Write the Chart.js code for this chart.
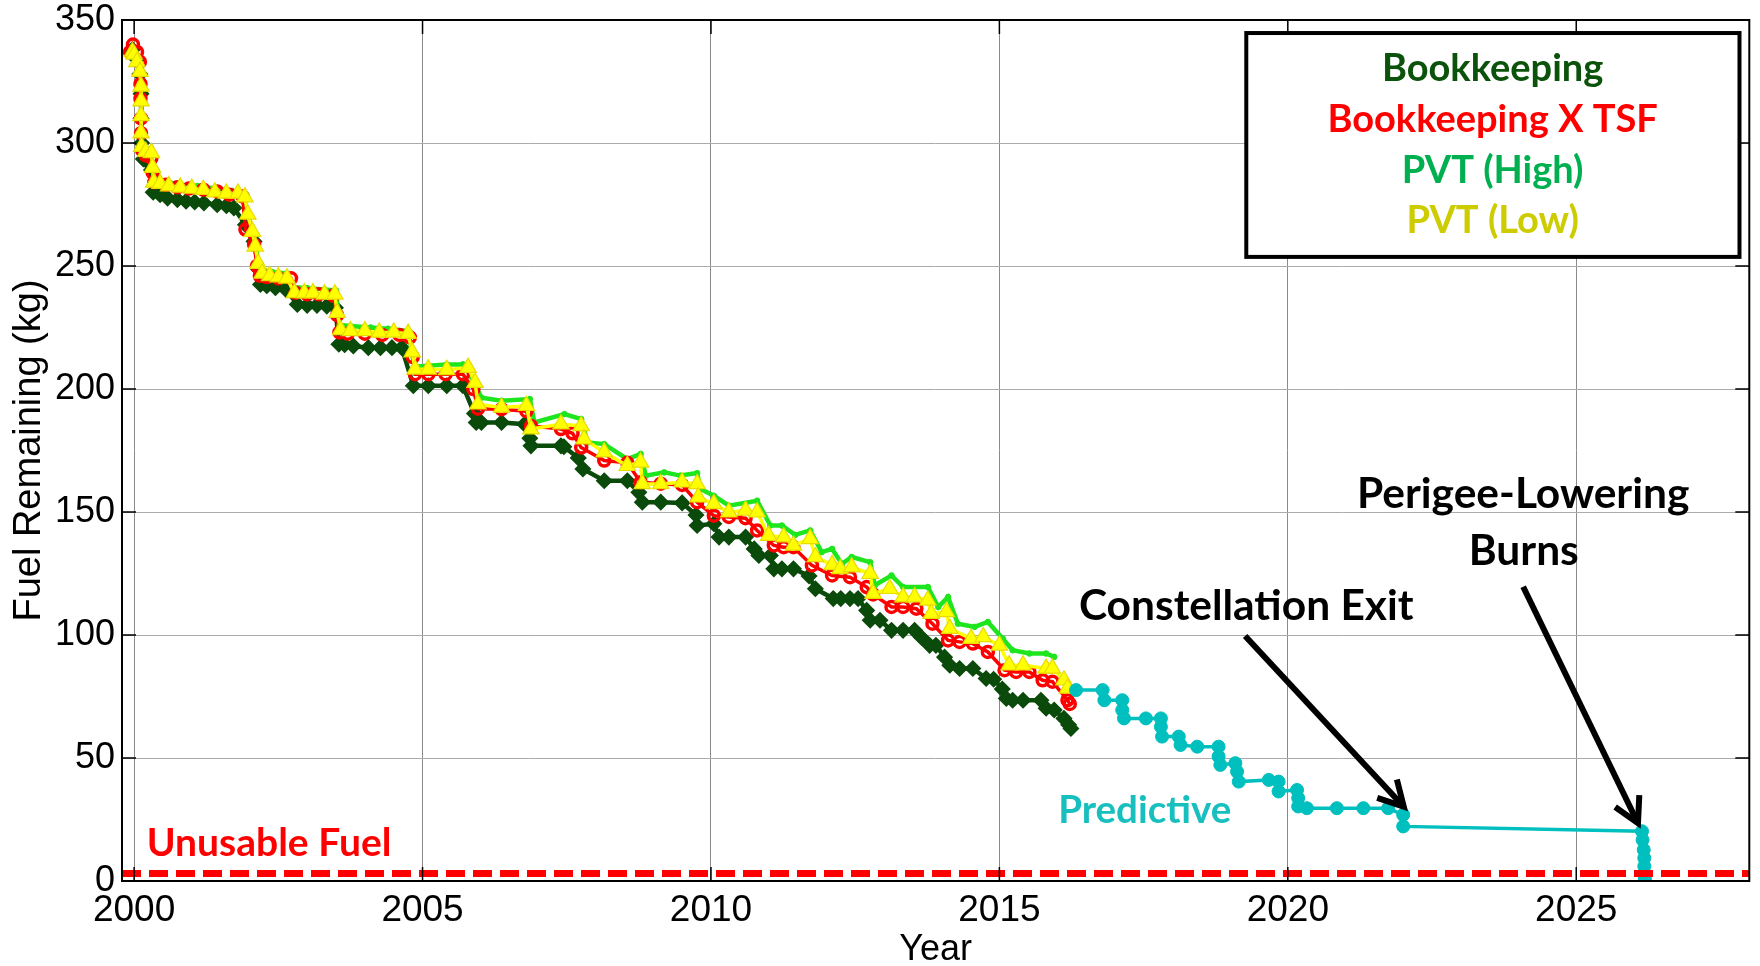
<!DOCTYPE html>
<html>
<head>
<meta charset="utf-8">
<script src="https://cdn.jsdelivr.net/npm/chart.js@4.4.1/dist/chart.umd.min.js"></script>
<style>
html,body{margin:0;padding:0;background:#fff;}
#wrap{width:1760px;height:966px;}
</style>
</head>
<body>
<div id="wrap"><canvas id="c" width="1760" height="966"></canvas></div>
<script>
// ---------- data ----------
const xMin = 1999.79, xMax = 2028;
const yMin = 0, yMax = 350;
const xTicks = [2000, 2005, 2010, 2015, 2020, 2025];
const yTicks = [0, 50, 100, 150, 200, 250, 300, 350];
const seriesNames = ['Bookkeeping', 'Bookkeeping X TSF', 'PVT (High)', 'PVT (Low)'];
const predictiveName = 'Predictive';
const unusableName = 'Unusable Fuel';

const bookkeeping = [
 [1999.97,338],[2000.05,334],[2000.1,328],[2000.12,320],[2000.12,310],[2000.13,300],[2000.16,293.5],[2000.25,292],[2000.3,289],[2000.33,280],
 [2000.45,279],[2000.58,277.6],[2000.75,277],[2000.9,276.3],[2001.05,276],[2001.21,275.6],[2001.44,274.9],[2001.6,274.5],[2001.73,273.6],
 [2001.93,266.8],[2002.08,260],[2002.16,248.6],[2002.19,242.5],[2002.3,242],[2002.45,241.2],[2002.63,240.5],
 [2002.83,234.4],[2003.0,234],[2003.17,234],[2003.34,233.7],[2003.49,233],
 [2003.55,218.2],[2003.65,218],[2003.8,217.5],[2004.06,216.8],[2004.27,216.8],[2004.47,216.8],[2004.64,216.8],
 [2004.84,201.3],[2005.1,201.3],[2005.42,201.3],[2005.7,201.3],
 [2005.9,190],[2005.93,186.4],[2006.02,186.4],[2006.37,186.4],[2006.77,185.7],
 [2006.86,180],[2006.88,176.9],[2007.4,176.9],[2007.45,176.5],
 [2007.7,172],[2007.78,167.5],[2008.15,162.7],[2008.55,162.7],
 [2008.75,158],[2008.81,154],[2009.13,154],[2009.5,153.7],
 [2009.74,148.8],[2009.76,144.5],[2010.05,145.2],[2010.14,139.8],[2010.31,139.8],[2010.6,139.8],
 [2010.75,135],[2010.83,132.3],[2011.03,132.3],[2011.09,126.9],[2011.23,126.9],[2011.43,126.9],
 [2011.7,124],[2011.81,118.8],[2012.12,114.8],[2012.25,114.8],[2012.41,114.8],[2012.55,114.8],
 [2012.7,110],[2012.76,106],[2012.93,106],[2013.13,101.9],[2013.33,101.9],[2013.53,101.9],
 [2013.65,99],[2013.79,95.8],[2013.9,95.8],[2014.05,91],[2014.14,87.7],[2014.31,86.4],[2014.54,86.4],
 [2014.77,82.3],[2014.9,82],[2015.05,78],[2015.12,74.2],[2015.23,73.5],[2015.41,73.5],[2015.72,73.5],
 [2015.81,70.2],[2015.95,69.5],[2016.12,66.1],[2016.2,63.5],[2016.24,62]
];

const bookkeepingTsf = [
 [1999.93,337],[1999.98,340],[2000.05,337],[2000.1,333],[2000.11,324],[2000.11,318],[2000.12,310],[2000.12,304],[2000.14,297],[2000.2,295],[2000.3,294],[2000.32,288],[2000.35,284],
 [2000.55,283],[2000.75,282],[2000.95,281.5],[2001.2,281],[2001.44,280.3],[2001.65,279],[2001.88,278.3],
 [2001.93,264.8],[2002.08,258.7],[2002.13,250],[2002.18,246],[2002.3,245.5],[2002.5,245],[2002.72,245],
 [2002.8,239.1],[2003.0,238.5],[2003.2,238.5],[2003.45,238],[2003.52,230],[2003.56,223],
 [2003.7,222.5],[2004.0,222.5],[2004.3,222],[2004.6,222],[2004.78,221],[2004.83,213],[2004.87,206],
 [2005.1,206],[2005.4,206],[2005.7,206],[2005.88,200],[2005.96,192],[2006.37,191.8],[2006.8,191],
 [2006.88,185],[2007.4,183.7],[2007.6,182],[2007.75,176.2],[2008.15,170.9],[2008.55,170],
 [2008.78,162.1],[2009.13,161.5],[2009.5,161],[2009.76,154],[2010.05,148.5],[2010.31,148],[2010.6,147.5],
 [2010.8,142.5],[2011.09,136.4],[2011.26,135.7],[2011.43,135.7],[2011.75,128.3],[2012.1,124.2],[2012.41,123.5],
 [2012.7,119.5],[2012.81,116.5],[2013.13,111.4],[2013.33,111.4],[2013.56,110.7],[2013.84,104.6],
 [2014.11,97.8],[2014.31,97.2],[2014.54,96.5],[2014.8,93.1],[2015.09,85.7],[2015.29,85],[2015.52,85],
 [2015.75,81.6],[2015.92,81],[2016.18,73.5],[2016.22,72]
];

const pvtHigh = [
 [1999.97,338],[2000.05,334],[2000.1,329],[2000.12,318],[2000.13,305],[2000.14,298],[2000.25,297],[2000.32,291],[2000.35,285],
 [2000.5,284.5],[2000.8,283],[2001.1,282.5],[2001.4,281.5],[2001.7,280.5],[2001.9,279.5],
 [2001.97,271],[2002.08,262],[2002.15,252],[2002.2,248.5],[2002.4,247.5],[2002.65,247],
 [2002.75,241.5],[2003.0,241],[2003.3,240.5],[2003.5,240],
 [2003.56,226],[2003.75,225.6],[2004.1,225],[2004.4,224.5],[2004.75,223.6],
 [2004.86,209],[2005.1,209.5],[2005.42,210],[2005.7,210],[2005.85,205],
 [2006.02,196.5],[2006.37,195.2],[2006.86,195.9],[2006.94,186.4],[2007.46,189.8],[2007.75,187.8],
 [2007.86,178.3],[2008.15,177.6],[2008.55,171.5],[2008.78,173.6],[2008.87,164.8],[2009.19,166.1],
 [2009.47,164.8],[2009.76,165.8],[2009.82,159.4],[2010.05,156.6],[2010.31,152.6],[2010.8,154.6],
 [2011.03,144.5],[2011.23,144.5],[2011.46,140.7],[2011.72,142.5],[2011.92,133.7],[2012.1,135],
 [2012.27,128.9],[2012.44,131.7],[2012.76,129.6],[2012.84,120.2],[2013.13,124.2],[2013.33,119.5],
 [2013.76,119.5],[2013.94,111.4],[2014.11,115.4],[2014.28,104.6],[2014.57,103.3],[2014.8,105.3],
 [2015.06,98.5],[2015.23,93.8],[2015.52,92.5],[2015.81,92.5],[2015.95,91.1]
];

const pvtLow = [
 [1999.97,337],[2000.0,336],[2000.05,333],[2000.1,329],[2000.12,323],[2000.12,317],[2000.12,311],[2000.12,304],[2000.13,298.5],[2000.2,296.5],[2000.3,296],[2000.32,290],[2000.34,284],
 [2000.45,283.5],[2000.6,282.5],[2000.8,282],[2001.0,281.5],[2001.2,281],[2001.4,280],[2001.6,279.5],[2001.8,279.5],[2001.92,278],
 [2001.97,271],[2002.05,264],[2002.1,258],[2002.15,251],[2002.22,247],[2002.35,246],[2002.5,245.5],[2002.65,245],
 [2002.78,239.1],[2002.95,239],[2003.1,239],[2003.3,238.5],[2003.48,238.5],
 [2003.52,231],[2003.58,224],[2003.75,223.6],[2004.0,223.6],[2004.25,223],[2004.5,223],[2004.75,222.5],
 [2004.82,215],[2004.87,208],[2005.1,208],[2005.42,207.8],[2005.79,208.7],[2005.91,202.6],[2005.96,193.8],
 [2006.37,192.5],[2006.8,193.2],[2006.88,183.7],[2007.4,185.7],[2007.75,185],[2007.8,179.6],
 [2008.15,174.3],[2008.55,168.8],[2008.78,170.2],[2008.81,161.4],[2009.13,161.4],[2009.5,162.1],[2009.76,161.4],
 [2009.78,156],[2010.05,153.3],[2010.31,149.9],[2010.6,150.6],[2010.8,149.9],[2011.0,140.4],[2011.26,139.8],
 [2011.43,136.4],[2011.72,139.1],[2011.81,131.7],[2012.1,128.5],[2012.24,126.9],[2012.44,127.6],[2012.76,124.9],
 [2012.81,116.8],[2013.1,118.8],[2013.33,115.4],[2013.53,115.4],[2013.76,114.1],[2013.82,108.7],[2014.08,109.4],
 [2014.14,102.6],[2014.51,98.5],[2014.72,99.2],[2015.0,95.8],[2015.17,87.7],[2015.41,87.7],[2015.81,86.4],
 [2015.92,86.4],[2016.12,81.6],[2016.18,78.3]
];

const predictive = [
 [2016.33,77.6],[2016.79,77.6],[2016.82,73.5],[2017.13,73.5],[2017.13,69.5],[2017.16,66.1],[2017.54,66.1],[2017.8,66.1],
 [2017.8,62.7],[2017.82,58.7],[2018.11,58.7],[2018.14,55.3],[2018.43,54.6],[2018.8,54.6],[2018.8,50.6],[2018.83,47.2],
 [2019.09,47.9],[2019.12,44.5],[2019.15,40.4],[2019.67,41.1],[2019.84,40.4],[2019.84,36.4],[2020.16,37],[2020.18,33.7],
 [2020.18,30.3],[2020.33,29.6],[2020.85,29.6],[2021.31,29.6],[2021.74,29.6],[2022.0,26.9],[2022.0,22.2],
 [2026.14,20.2],[2026.15,16.7],[2026.17,12.7],[2026.18,9.3],[2026.18,6],[2026.19,2.6],[2026.19,0.8]
];

const unusableFuel = [[xMin, 3], [xMax, 3]];

// ---------- annotation placement (data units) ----------
const notes = [
 {text: unusableName, x: 2000.22, y: 10.3, align: 'left', color: '#ff0000', size: 39},
 {text: predictiveName, x: 2016.02, y: 23.7, align: 'left', color: '#17bfbf', size: 38.5},
 {text: 'Constellation Exit', x: 2019.28, y: 105.9, align: 'center', color: '#000000', size: 42.5},
 {text: 'Perigee-Lowering', x: 2024.08, y: 151.6, align: 'center', color: '#000000', size: 42.5},
 {text: 'Burns', x: 2024.09, y: 128.5, align: 'center', color: '#000000', size: 42.5}
];
const arrows = [
 {from: [2019.26, 99.6], to: [2022.01, 30.2]},
 {from: [2024.08, 119.6], to: [2026.07, 23.5]}
];
const legendBox = {x0: 2019.28, x1: 2027.83, top: 344.7, bottom: 253.7, cx: 2023.55, baselines: [325.2, 304.5, 283.7, 263.4]};
const legendTextColors = ['#0b520b', '#ff0000', '#00b050', '#cccc00'];

// ---------- chart ----------
const toXY = arr => arr.map(p => ({x: p[0], y: p[1]}));
const FONT = '"Liberation Sans", Arial, sans-serif';
const BOLD = 'Lato, "Open Sans", sans-serif';

const overlay = {
  id: 'overlay',
  beforeDraw(c) {
    const ctx = c.ctx;
    ctx.save(); ctx.fillStyle = '#ffffff'; ctx.fillRect(0, 0, c.width, c.height); ctx.restore();
  },
  afterDraw(c) {
    const ctx = c.ctx, a = c.chartArea, xs = c.scales.x, ys = c.scales.y;
    const px = v => xs.getPixelForValue(v), py = v => ys.getPixelForValue(v);
    ctx.save();
    // axes box
    ctx.strokeStyle = '#000'; ctx.lineWidth = 2;
    ctx.strokeRect(a.left, a.top, a.right - a.left, a.bottom - a.top);
    // inward ticks
    ctx.lineWidth = 1.5; ctx.beginPath();
    xTicks.forEach(v => { const x = px(v); ctx.moveTo(x, a.bottom); ctx.lineTo(x, a.bottom - 14); ctx.moveTo(x, a.top); ctx.lineTo(x, a.top + 14); });
    yTicks.forEach(v => { const y = py(v); ctx.moveTo(a.left, y); ctx.lineTo(a.left + 14, y); ctx.moveTo(a.right, y); ctx.lineTo(a.right - 14, y); });
    ctx.stroke();
    // texts
    notes.forEach(n => {
      ctx.font = 'bold ' + n.size + 'px ' + BOLD;
      ctx.fillStyle = n.color; ctx.textAlign = n.align; ctx.textBaseline = 'alphabetic';
      ctx.fillText(n.text, px(n.x), py(n.y));
    });
    // arrows
    arrows.forEach(ar => {
      const x0 = px(ar.from[0]), y0 = py(ar.from[1]), x1 = px(ar.to[0]), y1 = py(ar.to[1]);
      const ang = Math.atan2(y1 - y0, x1 - x0), L = 28, h = 0.5;
      ctx.strokeStyle = '#000'; ctx.lineWidth = 6; ctx.lineCap = 'butt'; ctx.lineJoin = 'miter';
      ctx.beginPath(); ctx.moveTo(x0, y0); ctx.lineTo(x1 - 3 * Math.cos(ang), y1 - 3 * Math.sin(ang)); ctx.stroke();
      ctx.beginPath();
      ctx.moveTo(x1 - L * Math.cos(ang - h), y1 - L * Math.sin(ang - h));
      ctx.lineTo(x1, y1);
      ctx.lineTo(x1 - L * Math.cos(ang + h), y1 - L * Math.sin(ang + h));
      ctx.stroke();
    });
    // legend box
    const bx0 = px(legendBox.x0), bx1 = px(legendBox.x1), by0 = py(legendBox.top), by1 = py(legendBox.bottom);
    ctx.fillStyle = '#fff'; ctx.fillRect(bx0, by0, bx1 - bx0, by1 - by0);
    ctx.strokeStyle = '#000'; ctx.lineWidth = 4; ctx.strokeRect(bx0, by0, bx1 - bx0, by1 - by0);
    seriesNames.forEach((name, i) => {
      ctx.font = 'bold 38px ' + BOLD;
      ctx.fillStyle = legendTextColors[i]; ctx.textAlign = 'center'; ctx.textBaseline = 'alphabetic';
      ctx.fillText(name, px(legendBox.cx), py(legendBox.baselines[i]));
    });
    ctx.restore();
  }
};

new Chart(document.getElementById('c'), {
  type: 'line',
  data: {
    datasets: [
      {label: unusableName, data: toXY(unusableFuel), borderColor: '#ff0000', borderWidth: 7, borderDash: [19, 8],
       pointRadius: 0, order: 0, borderCapStyle: 'butt'},
      {label: predictiveName, data: toXY(predictive), borderColor: '#00bfbf', borderWidth: 3.5,
       pointStyle: 'circle', pointRadius: 6.5, pointBackgroundColor: '#00bfbf', pointBorderColor: '#00bfbf', pointBorderWidth: 1, order: 1},
      {label: seriesNames[3], data: toXY(pvtLow), borderColor: '#ffff00', borderWidth: 3.5,
       pointStyle: 'triangle', pointRadius: 9.5, pointBackgroundColor: '#ffff00', pointBorderColor: '#e6dc00', pointBorderWidth: 1.2, order: 2},
      {label: seriesNames[1], data: toXY(bookkeepingTsf), borderColor: '#ff0000', borderWidth: 3.5,
       pointStyle: 'circle', pointRadius: 5.5, pointBackgroundColor: 'rgba(255,255,255,0)', pointBorderColor: '#ff0000', pointBorderWidth: 3.5, order: 3},
      {label: seriesNames[2], data: toXY(pvtHigh), borderColor: '#1ee61e', borderWidth: 4.5,
       pointStyle: 'circle', pointRadius: 2.8, pointBackgroundColor: '#1ee61e', pointBorderColor: '#1ee61e', pointBorderWidth: 1, order: 4},
      {label: seriesNames[0], data: toXY(bookkeeping), borderColor: '#0a4a0a', borderWidth: 4.5,
       pointStyle: 'rectRot', pointRadius: 7.5, pointBackgroundColor: '#0a4a0a', pointBorderColor: '#0a4a0a', pointBorderWidth: 1.5, order: 5}
    ]
  },
  options: {
    responsive: false, animation: false, devicePixelRatio: 1, events: [],
    layout: {padding: {left: 0, right: 5, top: 20, bottom: 0}},
    elements: {line: {tension: 0}},
    plugins: {legend: {display: false}, tooltip: {enabled: false}},
    scales: {
      x: {
        type: 'linear', min: xMin, max: xMax,
        afterBuildTicks: s => { s.ticks = xTicks.map(v => ({value: v})); },
        afterFit: s => { s.height = 85; s.paddingLeft = 0; s.paddingRight = 0; },
        ticks: {font: {family: FONT, size: 37}, color: '#000', padding: 8, maxRotation: 0, autoSkip: false, callback: v => String(v)},
        grid: {color: '#8a8a8a', lineWidth: 1, drawTicks: false},
        border: {display: false},
        title: {display: true, text: 'Year', font: {family: FONT, size: 36, lineHeight: 0.86}, color: '#000', padding: 0}
      },
      y: {
        type: 'linear', min: yMin, max: yMax,
        afterBuildTicks: s => { s.ticks = yTicks.map(v => ({value: v})); },
        afterFit: s => { s.width = 122; s.paddingTop = 0; s.paddingBottom = 0; },
        ticks: {font: {family: FONT, size: 36}, color: '#000', padding: 7, autoSkip: false, callback: v => String(v)},
        grid: {color: '#ababab', lineWidth: 1, drawTicks: false},
        border: {display: false},
        title: {display: true, text: 'Fuel Remaining (kg)', font: {family: FONT, size: 38, lineHeight: 1.2}, color: '#000', padding: {top: 6.5, bottom: 0}}
      }
    }
  },
  plugins: [overlay]
});
</script>
</body>
</html>
